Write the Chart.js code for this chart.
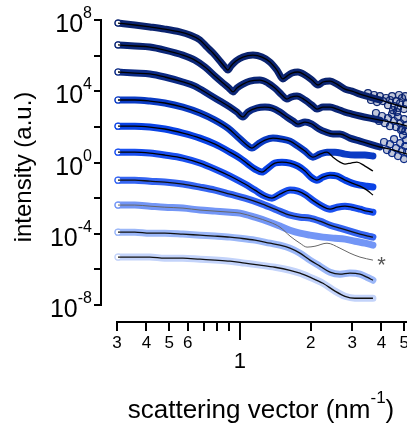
<!DOCTYPE html>
<html>
<head>
<meta charset="utf-8">
<script src="https://cdn.jsdelivr.net/npm/chart.js@4.4.0/dist/chart.umd.min.js"></script>
<style>
  html, body { margin: 0; padding: 0; background: #fff; overflow: hidden; }
  #wrap { position: relative; width: 420px; height: 430px; }
</style>
</head>
<body>
<div id="wrap"><canvas id="chart" width="420" height="430"></canvas></div>
<script>
// scattering curves, [q (nm^-1), log10 intensity]
const curve1 = [[0.303,7.83],[0.357,7.72],[0.414,7.61],[0.479,7.49],[0.555,7.33],[0.613,7.16],[0.676,6.88],[0.724,6.48],[0.768,6.15],[0.822,5.70],[0.863,5.36],[0.889,5.19],[0.916,5.42],[0.962,5.70],[1.03,5.92],[1.136,6.03],[1.241,5.92],[1.342,5.64],[1.437,5.19],[1.524,4.69],[1.585,4.85],[1.664,5.02],[1.765,5.08],[1.891,4.91],[2.024,4.63],[2.147,4.35],[2.255,4.52],[2.416,4.57],[2.588,4.40],[2.798,4.12],[2.998,4.01],[3.24,3.84],[3.572,3.67],[3.937,3.51],[4.349,3.34],[4.804,3.17],[5.14,3.06]];
const curve2 = [[0.303,6.60],[0.357,6.54],[0.414,6.48],[0.479,6.31],[0.572,6.03],[0.643,5.75],[0.71,5.36],[0.783,4.85],[0.847,4.46],[0.898,4.18],[0.934,3.96],[0.971,4.18],[1.03,4.40],[1.103,4.57],[1.216,4.63],[1.316,4.46],[1.409,4.18],[1.509,3.79],[1.585,3.56],[1.648,3.67],[1.748,3.73],[1.891,3.51],[2.024,3.22],[2.126,3.00],[2.255,3.11],[2.416,3.11],[2.588,3.00],[2.798,2.83],[2.998,2.72],[3.24,2.61],[3.572,2.49],[3.937,2.38],[4.349,2.27],[4.804,2.16],[5.14,2.04]];
const curve3 = [[0.303,5.08],[0.357,5.02],[0.414,4.97],[0.479,4.80],[0.572,4.52],[0.643,4.29],[0.745,3.79],[0.822,3.45],[0.907,3.11],[0.971,2.83],[1.03,2.55],[1.081,2.83],[1.181,3.06],[1.278,3.11],[1.368,3.06],[1.48,2.83],[1.585,2.55],[1.681,2.33],[1.765,2.16],[1.891,2.27],[2.024,2.16],[2.17,1.88],[2.32,1.71],[2.488,1.60],[2.664,1.60],[2.937,1.37],[3.24,1.20],[3.572,1.03],[3.937,0.87],[4.349,0.75],[4.804,0.58],[5.14,0.47]];
const curve4 = [[0.303,3.51],[0.357,3.51],[0.414,3.45],[0.479,3.34],[0.572,3.11],[0.676,2.78],[0.783,2.38],[0.889,1.93],[0.981,1.43],[1.06,1.03],[1.125,0.81],[1.193,1.03],[1.278,1.26],[1.382,1.37],[1.509,1.31],[1.633,1.20],[1.765,0.92],[1.891,0.64],[2.044,0.30],[2.189,0.47],[2.346,0.58],[2.537,0.58],[2.798,0.47],[3.084,0.42],[3.402,0.42],[3.679,0.36]];
const curve5 = [[0.303,2.04],[0.357,2.04],[0.414,1.99],[0.479,1.88],[0.572,1.65],[0.676,1.37],[0.783,1.03],[0.907,0.58],[1.0,0.25],[1.081,-0.09],[1.158,-0.37],[1.241,-0.54],[1.316,-0.31],[1.409,-0.03],[1.509,0.02],[1.633,-0.03],[1.765,-0.20],[1.891,-0.48],[2.005,-0.82],[2.126,-0.99],[2.255,-0.82],[2.416,-0.71],[2.588,-0.76],[2.798,-0.99],[2.998,-1.16],[3.24,-1.27],[3.469,-1.33],[3.679,-1.38]];
const curve6 = [[0.303,0.58],[0.357,0.58],[0.414,0.53],[0.479,0.42],[0.572,0.25],[0.676,-0.03],[0.783,-0.37],[0.907,-0.76],[1.05,-1.21],[1.158,-1.55],[1.278,-1.89],[1.368,-2.00],[1.48,-1.78],[1.633,-1.55],[1.765,-1.61],[1.909,-1.83],[2.065,-2.17],[2.233,-2.45],[2.416,-2.62],[2.588,-2.51],[2.798,-2.45],[2.998,-2.51],[3.24,-2.62],[3.469,-2.73],[3.679,-2.79]];
const curve7 = [[0.303,-0.99],[0.357,-0.99],[0.414,-1.05],[0.479,-1.10],[0.572,-1.21],[0.676,-1.38],[0.783,-1.55],[0.907,-1.78],[1.05,-2.00],[1.216,-2.28],[1.409,-2.62],[1.633,-2.96],[1.8,-3.07],[1.985,-3.12],[2.189,-3.29],[2.416,-3.52],[2.664,-3.69],[2.937,-3.85],[3.24,-4.02],[3.505,-4.13],[3.679,-4.19]];
const curve8 = [[0.303,-2.39],[0.357,-2.39],[0.414,-2.45],[0.479,-2.51],[0.572,-2.56],[0.676,-2.67],[0.783,-2.73],[0.907,-2.79],[1.0,-2.84],[1.158,-3.07],[1.342,-3.35],[1.48,-3.57],[1.633,-3.80],[1.8,-3.97],[1.985,-4.08],[2.255,-4.19],[2.537,-4.25],[2.798,-4.30],[3.084,-4.42],[3.402,-4.53],[3.679,-4.64]];
const curve9 = [[0.303,-3.91],[0.357,-3.91],[0.414,-3.97],[0.479,-3.97],[0.572,-4.02],[0.676,-4.08],[0.783,-4.13],[0.907,-4.19],[1.0,-4.25],[1.158,-4.36],[1.342,-4.53],[1.48,-4.64],[1.633,-4.81],[1.8,-5.09],[1.985,-5.48],[2.189,-5.82],[2.416,-6.16],[2.664,-6.27],[2.937,-6.21],[3.24,-6.27],[3.469,-6.44],[3.679,-6.61]];
const curve10 = [[0.303,-5.31],[0.357,-5.31],[0.414,-5.31],[0.479,-5.37],[0.572,-5.37],[0.676,-5.43],[0.783,-5.48],[0.907,-5.54],[1.05,-5.65],[1.216,-5.76],[1.409,-5.88],[1.633,-6.05],[1.8,-6.21],[1.985,-6.44],[2.255,-6.78],[2.537,-7.22],[2.798,-7.51],[3.084,-7.62],[3.402,-7.62],[3.679,-7.62]];

// scattered points at high q on the three top curves
const tail1 = [[3.505,3.90],[3.609,3.51],[3.718,3.79],[3.828,3.39],[3.937,3.73],[4.058,3.45],[4.182,3.62],[4.264,3.22],[4.349,3.51],[4.436,3.73],[4.523,3.17],[4.612,3.45],[4.703,3.06],[4.804,3.34],[4.892,3.62],[4.988,3.00],[5.087,3.28],[5.049,3.73],[4.75,3.79],[4.479,2.94]];
const tail2 = [[3.79,2.78],[3.904,2.33],[4.02,2.61],[4.138,2.21],[4.264,2.49],[4.349,2.04],[4.436,2.72],[4.523,2.33],[4.612,1.99],[4.703,2.55],[4.804,2.21],[4.892,1.88],[4.988,2.44],[5.087,2.10],[5.049,1.76],[4.656,2.83]];
const tail3 = [[4.101,1.15],[4.222,0.70],[4.349,1.03],[4.436,0.53],[4.523,1.31],[4.612,0.81],[4.703,0.36],[4.804,1.09],[4.892,0.64],[4.939,1.54],[4.988,0.19],[5.049,0.92],[5.087,1.26],[5.14,0.58],[4.843,1.82]];

// model fits: same as data except where they run off at the tail
const fit4 = curve4.slice(0, 21).concat([[2.488,0.30],[2.664,0.02],[2.798,-0.09],[2.967,-0.03],[3.145,0.02],[3.402,-0.20],[3.679,-0.48]]);
const fit5 = curve5.slice(0, 25).concat([[3.24,-1.33],[3.469,-1.55],[3.679,-1.83]]);
const fit8 = curve8.slice(0, 11).concat([[1.48,-3.63],[1.633,-4.13],[1.8,-4.53],[1.929,-4.75],[2.085,-4.70],[2.346,-4.53],[2.664,-4.81],[2.937,-5.09],[3.24,-5.31],[3.679,-5.48]]);

const curves = [curve1.slice(0, 34), curve2.slice(0, 32), curve3.slice(0, 29), curve4, curve5, curve6, curve7, curve8, curve9, curve10];
const tails = [tail1, tail2, tail3];
const fits = [curve1, curve2, curve3, fit4, fit5, curve6, curve7, fit8, curve9, curve10];
const curveColors = ['#0b2470', '#0b2677', '#0b2a85', '#0a3bc4', '#0a43e6', '#1a50f0', '#3565f2', '#7396f6', '#9bb7f8', '#c3d3fa'];
const fitColors = ['#000', '#000', '#000', '#000', '#000', '#000', '#111', '#666', '#111', '#111'];

// axes
const xTicks = [0.3, 0.4, 0.5, 0.6, 0.7, 0.8, 0.9, 1, 2, 3, 4, 5];
const xTickLabels = ['3', '4', '5', '6', '', '', '', '1', '2', '3', '4', '5'];
const yTicks = [-8, -6, -4, -2, 0, 2, 4, 6, 8];
const yTickLabels = { '-8': '-8', '-4': '-4', '0': '0', '4': '4', '8': '8' };

const FONT = '"Liberation Sans", Arial, Helvetica, sans-serif';

const axesPlugin = {
    id: 'igorAxes',
    afterDraw(chart) {
        const ctx = chart.ctx;
        const xs = chart.scales.x;
        const ys = chart.scales.y;
        ctx.save();
        ctx.strokeStyle = '#000';
        ctx.fillStyle = '#000';
        ctx.lineWidth = 2;

        // left axis, detached from the bottom one
        const axX = 101;
        ctx.beginPath();
        ctx.moveTo(axX, ys.getPixelForValue(8) - 1);
        ctx.lineTo(axX, ys.getPixelForValue(-8) + 1);
        yTicks.forEach(v => {
            const py = Math.round(ys.getPixelForValue(v));
            ctx.moveTo(axX, py);
            ctx.lineTo(axX - 7, py);
        });
        ctx.stroke();

        yTicks.forEach(v => {
            const sup = yTickLabels[String(v)];
            if (sup === undefined) return;
            const py = ys.getPixelForValue(v);
            ctx.font = '16px ' + FONT;
            const supW = ctx.measureText(sup).width;
            const right = 92;
            ctx.textAlign = 'left';
            ctx.textBaseline = 'alphabetic';
            ctx.fillText(sup, right - supW, py - 2);
            ctx.font = '25px ' + FONT;
            ctx.textAlign = 'right';
            ctx.fillText('10', right - supW, py + 12);
        });

        // bottom axis
        const axY = 322;
        ctx.beginPath();
        ctx.moveTo(xs.getPixelForValue(0.3) - 1, axY);
        ctx.lineTo(xs.right + 10, axY);
        xTicks.forEach(v => {
            const px = Math.round(xs.getPixelForValue(v));
            ctx.moveTo(px, axY);
            ctx.lineTo(px, axY + (v === 1 ? 18 : 9));
        });
        ctx.stroke();

        ctx.textAlign = 'center';
        ctx.textBaseline = 'alphabetic';
        xTicks.forEach((v, i) => {
            const lab = xTickLabels[i];
            if (!lab) return;
            const px = xs.getPixelForValue(v);
            if (v === 1) {
                ctx.font = '22px ' + FONT;
                ctx.fillText(lab, px, 368);
            } else {
                ctx.font = '17px ' + FONT;
                ctx.fillText(lab, px, 348);
            }
        });

        // axis titles
        const main = 'scattering vector (nm';
        ctx.font = '26px ' + FONT;
        const wMain = ctx.measureText(main).width;
        const wEnd = ctx.measureText(')').width;
        ctx.font = '17px ' + FONT;
        const wSup = ctx.measureText('-1').width;
        const total = wMain + wSup + wEnd;
        let tx = 261 - total / 2;
        ctx.textAlign = 'left';
        ctx.font = '26px ' + FONT;
        ctx.fillText(main, tx, 418);
        tx += wMain;
        ctx.font = '17px ' + FONT;
        ctx.fillText('-1', tx, 403);
        tx += wSup;
        ctx.font = '26px ' + FONT;
        ctx.fillText(')', tx, 418);

        ctx.save();
        ctx.font = '24px ' + FONT;
        ctx.translate(31, 167);
        ctx.rotate(-Math.PI / 2);
        ctx.textAlign = 'center';
        ctx.fillText('intensity (a.u.)', 0, 0);
        ctx.restore();

        // marker next to the fit that misses its data
        ctx.fillStyle = '#555';
        ctx.font = '22px ' + FONT;
        ctx.textAlign = 'center';
        ctx.fillText('*', xs.getPixelForValue(4.0), ys.getPixelForValue(-5.5) + 12);

        ctx.restore();
    }
};

const datasets = [];
curves.forEach((c, i) => {
    datasets.push({
        data: c,
        borderColor: curveColors[i],
        borderWidth: 7,
        // open marker on the first point, the rest reads as a solid band
        pointRadius: ctx => (ctx.dataIndex === 0 ? 3 : 0),
        pointBorderWidth: 1.2,
        pointBorderColor: curveColors[i],
        pointBackgroundColor: '#fff',
        cubicInterpolationMode: 'monotone',
        borderCapStyle: 'round',
        borderJoinStyle: 'round',
        clip: false,
        order: 2
    });
    datasets.push({
        data: fits[i],
        borderColor: fitColors[i],
        borderWidth: i === 7 ? 1 : 1.3,
        pointRadius: 0,
        cubicInterpolationMode: 'monotone',
        clip: false,
        order: 1
    });
});
tails.forEach((t, i) => {
    datasets.push({
        data: t,
        showLine: false,
        pointStyle: 'circle',
        pointRadius: 3.5,
        pointBorderWidth: 1.2,
        pointBorderColor: curveColors[i],
        pointBackgroundColor: 'rgba(11,36,112,0.25)',
        clip: false,
        order: 3
    });
});

new Chart(document.getElementById('chart'), {
    type: 'line',
    data: { datasets },
    options: {
        responsive: false,
        animation: false,
        devicePixelRatio: 1,
        layout: { padding: { left: 117, right: 6, top: 20, bottom: 125 } },
        scales: {
            x: { type: 'logarithmic', min: 0.3, max: 5.5, display: false },
            y: { type: 'linear', min: -8, max: 8, display: false }
        },
        plugins: { legend: { display: false }, tooltip: { enabled: false } }
    },
    plugins: [axesPlugin]
});
</script>
</body>
</html>
